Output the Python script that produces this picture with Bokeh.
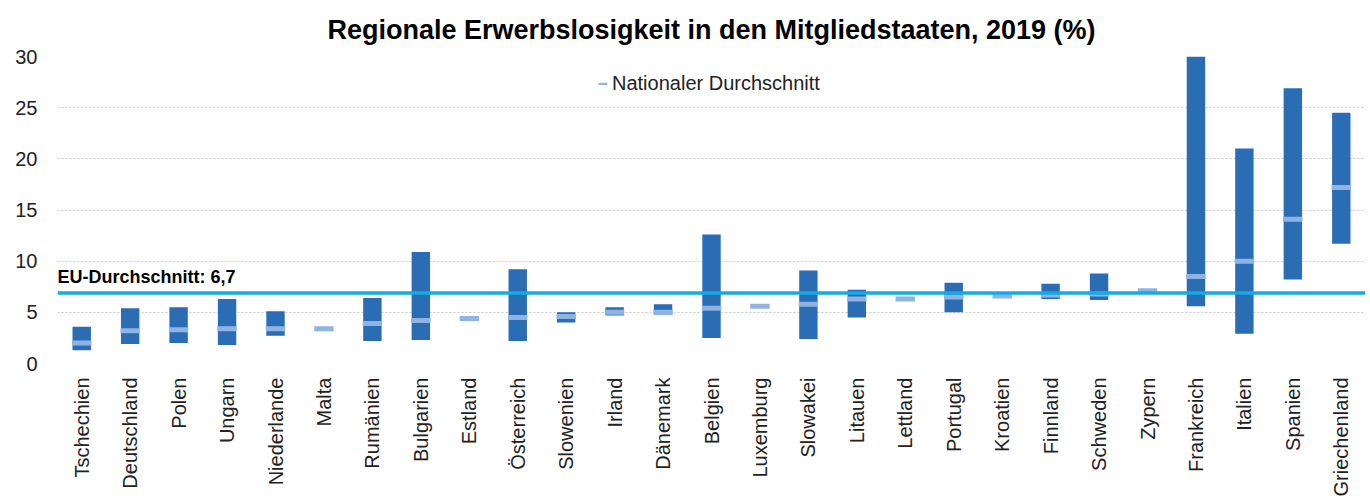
import math
from bokeh.plotting import figure
from bokeh.models import (ColumnDataSource, FactorRange, Range1d, Span, Label,
                          Legend, LegendItem, FixedTicker)
from bokeh.embed import file_html
from bokeh.resources import INLINE

nan = float("nan")

countries = ["Tschechien", "Deutschland", "Polen", "Ungarn", "Niederlande", "Malta",
             "Rumänien", "Bulgarien", "Estland", "Österreich", "Slowenien", "Irland",
             "Dänemark", "Belgien", "Luxemburg", "Slowakei", "Litauen", "Lettland",
             "Portugal", "Kroatien", "Finnland", "Schweden", "Zypern", "Frankreich",
             "Italien", "Spanien", "Griechenland"]
region_min = [1.3, 1.9, 2.0, 1.8, 2.7, nan, 2.2, 2.3, nan, 2.2, 4.0, 4.7, 4.8, 2.5, nan,
              2.4, 4.5, nan, 5.0, nan, 6.3, 6.2, nan, 5.6, 2.9, 8.2, 11.7]
region_max = [3.6, 5.4, 5.5, 6.3, 5.1, nan, 6.4, 10.9, nan, 9.2, 5.0, 5.5, 5.8, 12.6, nan,
              9.1, 7.2, nan, 7.9, nan, 7.8, 8.8, nan, 30.0, 21.0, 26.9, 24.5]
national_avg = [2.0, 3.2, 3.3, 3.4, 3.4, 3.4, 3.9, 4.2, 4.4, 4.5, 4.6, 5.0, 5.0, 5.4, 5.6,
                5.8, 6.3, 6.3, 6.5, 6.6, 6.7, 6.8, 7.1, 8.5, 10.0, 14.1, 17.2]
eu_line = 6.9
eu_label = "EU-Durchschnitt: 6,7"
y_ticks = [0, 5, 10, 15, 20, 25, 30]

FONT = "Liberation Sans"
DARK = "#2A6DB5"
LIGHT = "#8FB4E3"
EU = "#13ABE3"

src = ColumnDataSource(dict(country=countries, lo=region_min, hi=region_max, nat=national_avg))

p = figure(width=1370, height=499, output_backend="svg", toolbar_location=None,
           x_range=FactorRange(factors=countries, range_padding=0),
           y_range=Range1d(0, 30),
           min_border_left=57, min_border_right=5, min_border_top=56,
           min_border_bottom=134)
p.outline_line_color = None
p.background_fill_color = "white"

p.title.text = "Regionale Erwerbslosigkeit in den Mitgliedstaaten, 2019 (%)"
p.title.align = "center"
p.title.text_font = FONT
p.title.text_font_size = "27px"
p.title.text_font_style = "bold"
p.title.text_color = "black"
p.title.offset = 12
p.title.standoff = 23

p.vbar(x="country", top="hi", bottom="lo", width=0.38, source=src,
       fill_color=DARK, line_color=None)
nat_r = p.rect(x="country", y="nat", width=0.4, height=5, height_units="screen",
               source=src, fill_color=LIGHT, line_color=None)

p.add_layout(Span(location=eu_line, dimension="width", line_color=EU, line_width=3.5))
p.add_layout(Label(x=0, y=eu_line, y_offset=6, text=eu_label,
                   text_font=FONT, text_font_size="18px", text_font_style="bold",
                   text_color="black", text_baseline="bottom"))

legend = Legend(items=[LegendItem(label="Nationaler Durchschnitt", renderers=[nat_r])],
                location=(540, 268), border_line_color=None, background_fill_alpha=0,
                padding=0, margin=0, glyph_width=11, glyph_height=3,
                label_standoff=4, label_text_font=FONT, label_text_font_size="20px",
                label_text_color="#222222")
p.add_layout(legend, "center")

p.xgrid.grid_line_color = None
p.ygrid.grid_line_color = "#C8C8C8"
p.ygrid.grid_line_dash = "2 2"
p.ygrid.grid_line_width = 1

p.yaxis.ticker = FixedTicker(ticks=y_ticks)
for ax in (p.xaxis, p.yaxis):
    ax.axis_line_color = None
    ax.major_tick_line_color = None
    ax.minor_tick_line_color = None
    ax.major_label_text_font = FONT
    ax.major_label_text_font_size = "20px"
    ax.major_label_text_color = "#222222"
p.yaxis.major_label_standoff = 14
p.xaxis.major_label_standoff = 8
p.xaxis.major_label_orientation = math.pi / 2

open("out.html", "w").write(file_html(p, INLINE))
